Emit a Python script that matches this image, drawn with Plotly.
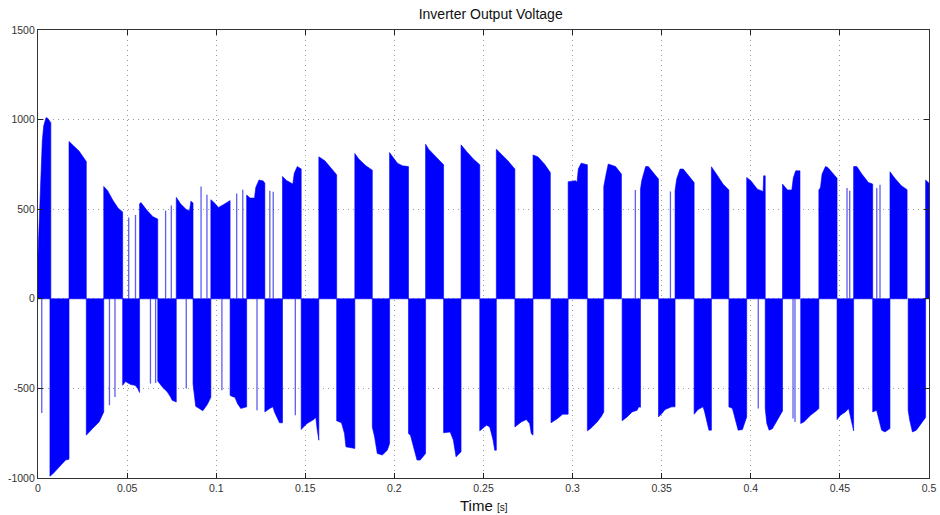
import plotly.graph_objects as go

# Envelope points (time [s], voltage [V]) of each positive half-cycle block
pos_blocks = [
    [(0.0, 250), (0.0007, 436), (0.0015, 621), (0.0024, 880), (0.0032, 965), (0.0045, 1011), (0.0054, 1008), (0.0072, 983)],
    [(0.0174, 878), (0.0230, 825), (0.0268, 775), (0.0271, 766)],
    [(0.0369, 627), (0.0390, 605), (0.0420, 550), (0.0450, 505), (0.0475, 485)],
    [(0.0570, 530), (0.0578, 537), (0.0610, 495), (0.0645, 458), (0.0672, 445)],
    [(0.0776, 566), (0.0800, 530), (0.0830, 500), (0.0850, 490), (0.0858, 545), (0.0870, 535)],
    [(0.0970, 553), (0.0985, 540), (0.1013, 510), (0.1040, 525), (0.1078, 548)],
    [(0.1171, 579), (0.1190, 562), (0.1215, 562), (0.1222, 621), (0.1240, 663), (0.1264, 658), (0.1273, 645)],
    [(0.1372, 683), (0.1395, 660), (0.1430, 640), (0.1438, 700), (0.1455, 738), (0.1477, 725)],
    [(0.1576, 792), (0.1610, 770), (0.1645, 725), (0.1676, 692)],
    [(0.1778, 811), (0.1800, 780), (0.1840, 742), (0.1876, 718)],
    [(0.1973, 816), (0.1988, 795), (0.2017, 757), (0.2045, 742), (0.2079, 738)],
    [(0.2175, 863), (0.2192, 835), (0.2238, 788), (0.2276, 748)],
    [(0.2374, 859), (0.2405, 822), (0.2443, 780), (0.2479, 748)],
    [(0.2572, 835), (0.2600, 807), (0.2637, 770), (0.2676, 724)],
    [(0.2778, 803), (0.2805, 792), (0.2842, 752), (0.2875, 705)],
    [(0.2975, 653), (0.3017, 659), (0.3025, 650), (0.3032, 724), (0.3048, 757), (0.3083, 748)],
    [(0.3175, 627), (0.3187, 690), (0.3200, 752), (0.3241, 738), (0.3274, 696)],
    [(0.3381, 612), (0.3388, 660), (0.3410, 738), (0.3425, 738), (0.3453, 705), (0.3482, 668)],
    [(0.3575, 603), (0.3584, 668), (0.3603, 724), (0.3621, 724), (0.3658, 677), (0.3682, 649)],
    [(0.3779, 737), (0.3807, 696), (0.3844, 640), (0.3877, 607)],
    [(0.3977, 677), (0.4000, 659), (0.4037, 612), (0.4069, 599), (0.4072, 686), (0.4081, 686)],
    [(0.4178, 640), (0.4206, 607), (0.4230, 607), (0.4239, 677), (0.4252, 714), (0.4276, 714)],
    [(0.4382, 607), (0.4391, 621), (0.4400, 696), (0.4419, 738), (0.4432, 733), (0.4484, 673)],
    [(0.4577, 738), (0.4595, 738), (0.4623, 696), (0.4660, 649), (0.4684, 640)],
    [(0.4781, 709), (0.4808, 673), (0.4845, 631), (0.4877, 609)],
    [(0.4981, 663), (0.5000, 645)],
]

# Envelope points of each negative half-cycle block
neg_blocks = [
    [(0.0067, -990), (0.0085, -975), (0.0127, -928), (0.0155, -900), (0.0174, -895)],
    [(0.0271, -761), (0.0306, -724), (0.0343, -687), (0.0369, -631)],
    [(0.0475, -483), (0.0491, -462), (0.0520, -478), (0.0545, -483), (0.0560, -501), (0.0570, -523)],
    [(0.0672, -459), (0.0698, -492), (0.0726, -520), (0.0744, -548), (0.0753, -566), (0.0776, -576)],
    [(0.0870, -475), (0.0885, -600), (0.0905, -615), (0.0925, -625), (0.0950, -590), (0.0970, -550)],
    [(0.1078, -539), (0.1097, -548), (0.1105, -550), (0.1120, -585), (0.1138, -612), (0.1171, -603)],
    [(0.1273, -631), (0.1300, -612), (0.1318, -603), (0.1327, -631), (0.1345, -668), (0.1355, -692), (0.1372, -692)],
    [(0.1477, -729), (0.1505, -700), (0.1510, -696), (0.1547, -674), (0.1559, -662), (0.1566, -724), (0.1572, -780), (0.1576, -789)],
    [(0.1676, -681), (0.1703, -692), (0.1720, -752), (0.1728, -826), (0.1778, -835)],
    [(0.1876, -715), (0.1889, -771), (0.1904, -863), (0.1932, -872), (0.1960, -845), (0.1973, -807)],
    [(0.2079, -752), (0.2090, -761), (0.2108, -826), (0.2127, -900), (0.2145, -900), (0.2175, -863)],
    [(0.2276, -748), (0.2313, -743), (0.2331, -789), (0.2346, -882), (0.2374, -854)],
    [(0.2479, -737), (0.2517, -705), (0.2535, -715), (0.2554, -789), (0.2563, -845), (0.2572, -845)],
    [(0.2676, -715), (0.2712, -687), (0.2740, -674), (0.2759, -696), (0.2768, -752), (0.2778, -761)],
    [(0.2879, -692), (0.2916, -668), (0.2944, -644), (0.2975, -644)],
    [(0.3083, -737), (0.3101, -724), (0.3138, -687), (0.3162, -655), (0.3175, -631)],
    [(0.3278, -681), (0.3306, -659), (0.3334, -631), (0.3362, -622), (0.3371, -603), (0.3381, -605)],
    [(0.3482, -659), (0.3501, -640), (0.3519, -618), (0.3556, -603), (0.3575, -603)],
    [(0.3682, -644), (0.3704, -618), (0.3732, -603), (0.3741, -631), (0.3756, -696), (0.3765, -733), (0.3779, -733)],
    [(0.3877, -603), (0.3897, -612), (0.3916, -678), (0.3929, -733), (0.3953, -730), (0.3977, -659)],
    [(0.4081, -612), (0.4090, -696), (0.4103, -733), (0.4121, -725), (0.4149, -678), (0.4178, -626)],
    [(0.4280, -696), (0.4298, -687), (0.4335, -650), (0.4372, -622), (0.4382, -612)],
    [(0.4484, -674), (0.4503, -650), (0.4531, -631), (0.4549, -612), (0.4562, -678), (0.4573, -737), (0.4577, -737)],
    [(0.4684, -631), (0.4706, -622), (0.4716, -659), (0.4734, -733), (0.4753, -743), (0.4766, -733), (0.4781, -724)],
    [(0.4883, -622), (0.4892, -678), (0.4907, -743), (0.4929, -733), (0.4957, -696), (0.4981, -662)],
]

# Isolated single PWM pulses (time, peak voltage)
spike_t = [0.0021, 0.0401, 0.0432, 0.0509, 0.0547, 0.0631, 0.0660, 0.0716, 0.0748, 0.0832,
           0.0915, 0.0948, 0.1032, 0.1115, 0.1149, 0.1229, 0.1301, 0.1320, 0.1444, 0.3352,
           0.3549, 0.4042, 0.4237, 0.4248, 0.4540, 0.4555, 0.4707, 0.4725]
spike_v = [-637, -594, -548, 454, 468, -473, -470, 492, 520, -501,
           627, 581, -511, 588, 609, -622, 603, 597, -650, 607,
           599, -612, -668, -687, 618, 603, 618, 636]

x_ticks = [0, 0.05, 0.1, 0.15, 0.2, 0.25, 0.3, 0.35, 0.4, 0.45, 0.5]
x_tick_labels = ["0", "0.05", "0.1", "0.15", "0.2", "0.25", "0.3", "0.35", "0.4", "0.45", "0.5"]
y_ticks = [-1000, -500, 0, 500, 1000, 1500]
y_tick_labels = ["-1000", "-500", "0", "500", "1000", "1500"]

BLUE = "#0000FF"
FONT = "Liberation Sans, Arial, sans-serif"


def polygons(blocks):
    xs, ys = [], []
    for pts in blocks:
        ts = [p[0] for p in pts]
        vs = [p[1] for p in pts]
        xs += [ts[0]] + ts + [ts[-1], ts[0], None]
        ys += [0] + vs + [0, 0, None]
    return xs, ys


fig = go.Figure()
for blocks in (pos_blocks, neg_blocks):
    px, py = polygons(blocks)
    fig.add_trace(go.Scatter(x=px, y=py, mode="lines", fill="toself",
                             fillcolor=BLUE, line=dict(color=BLUE, width=0.6),
                             hoverinfo="skip", showlegend=False))

sx, sy = [], []
for t, v in zip(spike_t, spike_v):
    sx += [t, t, None]
    sy += [0, v, None]
fig.add_trace(go.Scatter(x=sx, y=sy, mode="lines",
                         line=dict(color="rgba(40,40,230,0.75)", width=1.3),
                         hoverinfo="skip", showlegend=False))

axis_common = dict(
    showgrid=True, gridcolor="#9a9a9a", griddash="1px,4px", gridwidth=1,
    zeroline=False, showline=True, linecolor="#333333", linewidth=1.3,
    mirror="ticks", ticks="inside", ticklen=5, tickcolor="#222222",
    ticklabeloverflow="allow",
    tickfont=dict(family=FONT, size=10.5, color="#333333"),
)

fig.update_xaxes(range=[0, 0.5], tickvals=x_ticks, ticktext=x_tick_labels, **axis_common)
fig.update_yaxes(range=[-1000, 1500], tickvals=y_ticks, ticktext=y_tick_labels, **axis_common)

fig.update_layout(
    width=940, height=515,
    margin=dict(l=38, r=4, t=30, b=37),
    paper_bgcolor="white", plot_bgcolor="white",
    title=dict(text="Inverter Output Voltage", x=0.522, xanchor="center",
               y=1 - 14 / 515, yanchor="middle",
               font=dict(family=FONT, size=14, color="#111111")),
    annotations=[dict(text="Time <span style='font-size:10px'>[s]</span>",
                      xref="paper", yref="paper", x=0.5, y=-27 / 448,
                      xanchor="center", yanchor="middle", showarrow=False,
                      font=dict(family=FONT, size=15, color="#111111"))],
)

fig.write_html("out.html")
